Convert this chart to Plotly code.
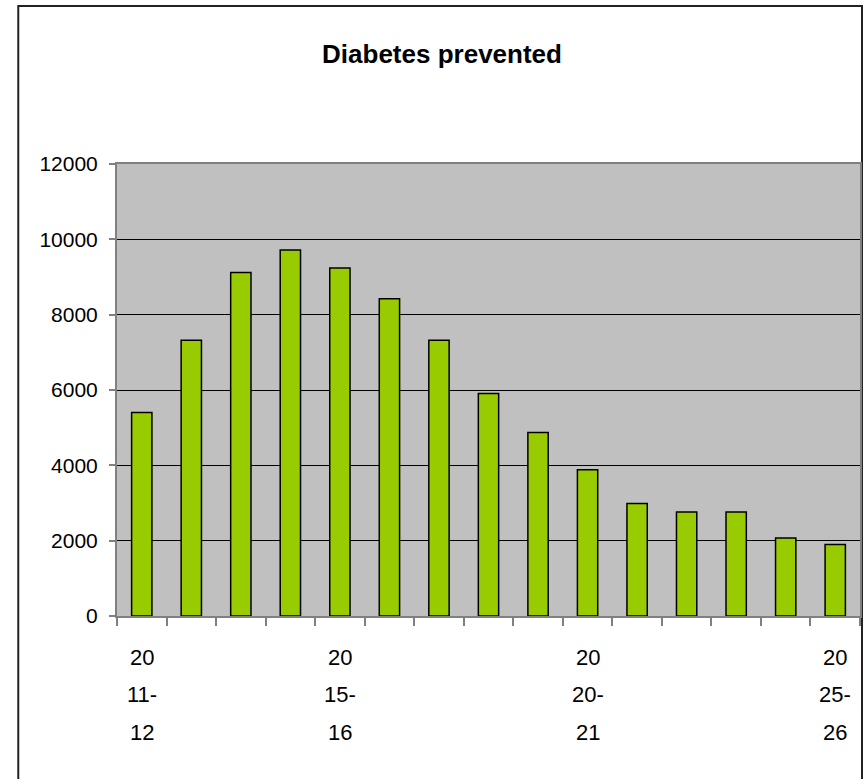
import plotly.graph_objects as go

# Annual cases of diabetes prevented, financial years 2011-12 to 2025-26
years = ["2011-12", "2012-13", "2013-14", "2014-15", "2015-16", "2016-17",
         "2017-18", "2018-19", "2019-20", "2020-21", "2021-22", "2022-23",
         "2023-24", "2024-25", "2025-26"]
prevented = [5400, 7320, 9120, 9720, 9240, 8420, 7320, 5910, 4870, 3880,
             2990, 2760, 2760, 2070, 1900]

# Only every fifth year is labelled, split over three lines
label_years = ["2011-12", "2015-16", "2020-21", "2025-26"]
label_lines = [["20", "11-", "12"], ["20", "15-", "16"],
               ["20", "20-", "21"], ["20", "25-", "26"]]

FONT = "Liberation Sans Narrow, Arial Narrow, Liberation Sans, Arial, sans-serif"

W, H = 866, 779
L, R, T, B = 117, 4, 164, 163
plot_w = W - L - R
plot_h = H - T - B

fig = go.Figure(go.Bar(
    x=years, y=prevented,
    marker=dict(color="#99CC00", line=dict(color="#000000", width=1.5)),
))

annotations = []
line_offsets = [41, 78, 116]
for yr, lines in zip(label_years, label_lines):
    for txt, off in zip(lines, line_offsets):
        annotations.append(dict(
            x=yr, xref="x", y=0, yref="paper", yshift=-off,
            text=txt, showarrow=False, xanchor="center", yanchor="middle",
            font=dict(family=FONT, size=22, color="#000000"),
        ))

# Outer chart-area frame
def px_x(p):
    return (p - L) / plot_w

def px_y(p):
    return (H - B - p) / plot_h

shapes = [dict(type="rect", xref="paper", yref="paper",
               x0=px_x(18), x1=px_x(864), y0=px_y(782), y1=px_y(6),
               line=dict(color="#222222", width=2), fillcolor="rgba(0,0,0,0)",
               layer="below")]

fig.update_layout(
    width=W, height=H,
    margin=dict(l=L, r=R, t=T, b=B, pad=0),
    paper_bgcolor="#FFFFFF",
    plot_bgcolor="#C0C0C0",
    bargap=0.59,
    showlegend=False,
    title=dict(text="<b>Diabetes prevented</b>", x=442 / W, xanchor="center",
               y=1 - 54 / H, yanchor="middle", yref="container",
               font=dict(family=FONT, size=26, color="#000000")),
    font=dict(family=FONT, size=22, color="#000000"),
    annotations=annotations,
    shapes=shapes,
    xaxis=dict(
        type="category", showticklabels=False,
        ticks="outside", tickson="boundaries", ticklen=8, tickwidth=1.5,
        tickcolor="#808080",
        showline=True, linecolor="#808080", linewidth=2, mirror=True,
        showgrid=False,
    ),
    yaxis=dict(
        range=[0, 12000], dtick=2000, tick0=0, tickformat="d",
        ticks="outside", ticklen=6, tickwidth=1.5, tickcolor="#808080",
        ticklabelstandoff=7,
        showline=True, linecolor="#808080", linewidth=2, mirror=True,
        showgrid=True, gridcolor="#000000", gridwidth=1,
        zeroline=False,
        tickfont=dict(family=FONT, size=21, color="#000000"),
    ),
)

fig.write_html("out.html")
